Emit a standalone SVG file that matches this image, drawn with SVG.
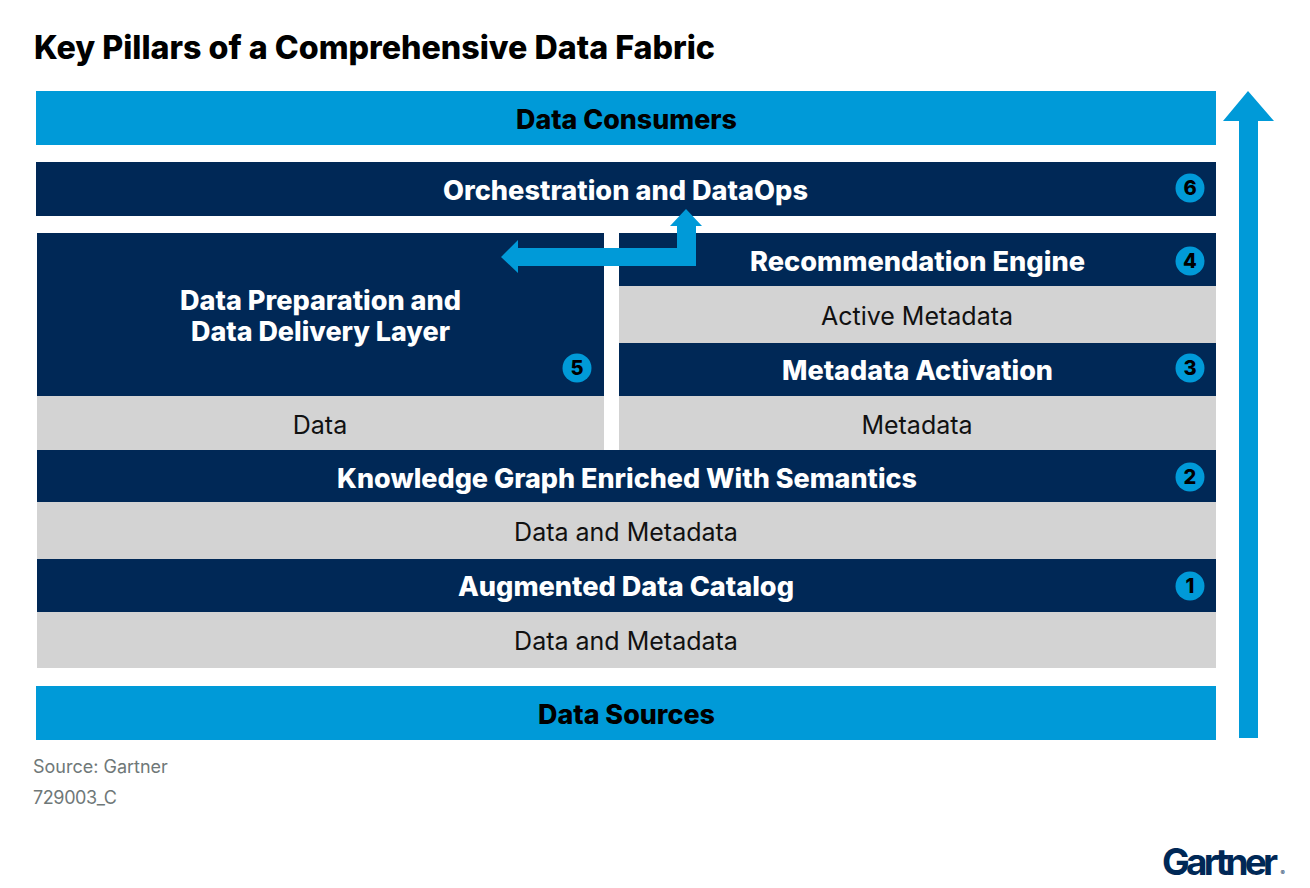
<svg xmlns="http://www.w3.org/2000/svg" width="1310" height="888" viewBox="0 0 1310 888">
<style>
text{font-family:Inter,"Liberation Sans",sans-serif}
.h{font-size:26.5px;font-weight:800;text-anchor:middle}
.w{fill:#fff}.k{fill:#000}
.l{font-size:25px;font-weight:400;text-anchor:middle;fill:#111}
.n{font-size:20px;font-weight:800;text-anchor:middle;fill:#000}
.s{font-size:18px;fill:#6f7878}
.navy{fill:#002856}.blue{fill:#009ad8}.gray{fill:#d3d3d3}
</style>
<rect width="1310" height="888" fill="#fff"/>
<text id="title" x="34" y="59" font-size="32" font-weight="800" fill="#000" textLength="681" lengthAdjust="spacingAndGlyphs">Key Pillars of a Comprehensive Data Fabric</text>
<g id="data-consumers"><rect class="blue" x="36" y="91" width="1180" height="54"/><text class="h k" x="626.5" y="129" textLength="221" lengthAdjust="spacingAndGlyphs">Data Consumers</text></g>
<g id="orchestration"><rect class="navy" x="36" y="162" width="1180" height="54"/><text class="h w" x="625.5" y="200" textLength="365" lengthAdjust="spacingAndGlyphs">Orchestration and DataOps</text><circle class="blue" cx="1190" cy="188" r="14.5"/><text class="n" x="1190" y="195">6</text></g>
<g id="data-prep"><rect class="navy" x="37" y="233" width="567" height="163"/><text class="h w" x="320.500" y="310" textLength="281" lengthAdjust="spacingAndGlyphs">Data Preparation and</text><text class="h w" x="320.500" y="341" textLength="259" lengthAdjust="spacingAndGlyphs">Data Delivery Layer</text><circle class="blue" cx="577" cy="368" r="14.5"/><text class="n" x="577" y="375">5</text></g>
<g id="data"><rect class="gray" x="37" y="396" width="567" height="54"/><text class="l" x="320" y="434">Data</text></g>
<g id="recommendation"><rect class="navy" x="619" y="233" width="597" height="53"/><text class="h w" x="917.500" y="271" textLength="335" lengthAdjust="spacingAndGlyphs">Recommendation Engine</text><circle class="blue" cx="1190" cy="261" r="14.5"/><text class="n" x="1190" y="268">4</text></g>
<g id="active-metadata"><rect class="gray" x="619" y="286" width="597" height="57"/><text class="l" x="917" y="325">Active Metadata</text></g>
<g id="activation"><rect class="navy" x="619" y="343" width="597" height="53"/><text class="h w" x="917.500" y="380" textLength="271" lengthAdjust="spacingAndGlyphs">Metadata Activation</text><circle class="blue" cx="1190" cy="368" r="14.5"/><text class="n" x="1190" y="375">3</text></g>
<g id="metadata"><rect class="gray" x="619" y="396" width="597" height="54"/><text class="l" x="917" y="434">Metadata</text></g>
<g id="knowledge-graph"><rect class="navy" x="37" y="450" width="1179" height="52"/><text class="h w" x="627" y="488" textLength="580" lengthAdjust="spacingAndGlyphs">Knowledge Graph Enriched With Semantics</text><circle class="blue" cx="1190" cy="477" r="14.5"/><text class="n" x="1190" y="484">2</text></g>
<g id="data-metadata-2"><rect class="gray" x="37" y="502" width="1179" height="57"/><text class="l" x="626" y="541">Data and Metadata</text></g>
<g id="catalog"><rect class="navy" x="37" y="559" width="1179" height="53"/><text class="h w" x="626" y="596" textLength="336" lengthAdjust="spacingAndGlyphs">Augmented Data Catalog</text><circle class="blue" cx="1190" cy="586" r="14.5"/><text class="n" x="1190" y="593">1</text></g>
<g id="data-metadata-1"><rect class="gray" x="37" y="612" width="1179" height="56"/><text class="l" x="626" y="650">Data and Metadata</text></g>
<g id="data-sources"><rect class="blue" x="36" y="686" width="1180" height="54"/><text class="h k" x="626.500" y="724" textLength="177" lengthAdjust="spacingAndGlyphs">Data Sources</text></g>
<g id="connectors">
<polygon class="blue" points="1248,91 1274,121 1258,121 1258,738 1239,738 1239,121 1223,121"/>
<polygon class="blue" points="686,209 702,226 696,226 696,266 518,266 518,273 501,257 518,240 518,248 677,248 677,226 670,226"/>
</g>
<text class="s" x="33" y="773">Source: Gartner</text>
<text class="s" x="33" y="804" textLength="84">729003_C</text>
<g id="logo"><text x="1162" y="875" font-size="37" font-weight="700" fill="#002856" textLength="116">Gartner</text><text x="1280.500" y="875" font-size="6.500" fill="#002856">®</text></g>
</svg>
